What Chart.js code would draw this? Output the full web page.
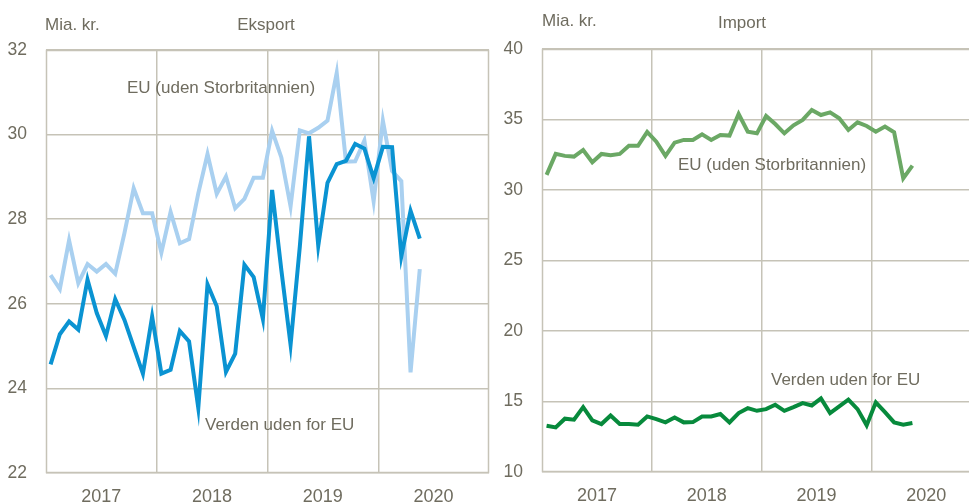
<!DOCTYPE html>
<html>
<head>
<meta charset="utf-8">
<script src="https://cdn.jsdelivr.net/npm/chart.js@4.4.1/dist/chart.umd.min.js"></script>
<style>
  html, body { margin: 0; padding: 0; background: #fff; overflow: hidden; width: 969px; height: 504px; }
  .panel { position: absolute; top: 0; }
  #left { left: 0; width: 490px; height: 504px; }
  #right { left: 490px; width: 500px; height: 504px; }
</style>
</head>
<body>
<div class="panel" id="left"><canvas id="eksportChart" width="490" height="504"></canvas></div>
<div class="panel" id="right"><canvas id="importChart" width="500" height="504"></canvas></div>
<script>
// Months on the x axis, Jan 2017 - Dec 2020
const years = ["2017", "2018", "2019", "2020"];
const months = [];
years.forEach((y) => {
  for (let m = 1; m <= 12; m++) months.push(y + "M" + String(m).padStart(2, "0"));
});

// Eksport, mia. kr. (Jan 2017 - May 2020)
const eksportEU = [
  26.68, 26.35, 27.5, 26.49, 26.94, 26.76, 26.94, 26.71, 27.67, 28.73, 28.14, 28.14,
  27.21, 28.17, 27.43, 27.53, 28.61, 29.54, 28.6, 29.01, 28.26, 28.48, 28.98, 28.98,
  30.09, 29.46, 28.3, 30.1, 30.03, 30.16, 30.33, 31.46, 29.36, 29.37, 29.86, 28.42,
  30.33, 29.14, 28.9, 24.38, 26.82
];
const eksportVerden = [
  24.57, 25.28, 25.58, 25.39, 26.57, 25.78, 25.24, 26.11, 25.62, 24.98, 24.35, 25.7,
  24.35, 24.44, 25.36, 25.11, 23.54, 26.46, 25.94, 24.39, 24.82, 26.92, 26.63, 25.64,
  28.69, 26.8, 25.03, 27.35, 29.96, 27.37, 28.86, 29.3, 29.38, 29.78, 29.67, 28.97,
  29.71, 29.7, 27.12, 28.2, 27.54
];

// Import, mia. kr.
const importEU = [
  31.07, 32.56, 32.42, 32.37, 32.84, 31.97, 32.56, 32.46, 32.56, 33.13, 33.13, 34.12,
  33.43, 32.42, 33.36, 33.55, 33.55, 33.95, 33.55, 33.9, 33.86, 35.39, 34.14, 34.02,
  35.25, 34.68, 34.02, 34.59, 34.97, 35.68, 35.32, 35.51, 35.09, 34.26, 34.8, 34.54,
  34.14, 34.5, 34.09, 30.83, 31.73
];
const importVerden = [
  13.28, 13.16, 13.78, 13.71, 14.6, 13.66, 13.4, 14.01, 13.4, 13.4, 13.35, 13.94,
  13.75, 13.52, 13.87, 13.52, 13.54, 13.94, 13.94, 14.11, 13.52, 14.18, 14.53, 14.34,
  14.46, 14.77, 14.34, 14.6, 14.89, 14.72, 15.22, 14.18, 14.65, 15.13, 14.46, 13.31,
  14.94, 14.25, 13.52, 13.35, 13.47
];

const textColor = "#6f6c5f";
const gridColor = "#c6c3b7";

Chart.defaults.font.family = "'Liberation Sans', Arial, sans-serif";
Chart.defaults.font.size = 17;
Chart.defaults.color = textColor;

// Frame, titles and in-plot labels
const decorPlugin = {
  id: "decor",
  afterDraw(chart, args, opts) {
    const { ctx, chartArea: a } = chart;
    ctx.save();
    ctx.strokeStyle = gridColor;
    ctx.lineWidth = 1.5;
    ctx.strokeRect(a.left + 0.5, a.top + 0.5, a.right - a.left - 1, a.bottom - a.top - 1);
    ctx.fillStyle = textColor;
    ctx.font = "17px 'Liberation Sans', Arial, sans-serif";
    ctx.textBaseline = "middle";
    opts.texts.forEach((t) => {
      ctx.textAlign = t.align || "left";
      ctx.fillText(t.text, t.x, t.y);
    });
    ctx.restore();
  },
};

function makeChart(id, cfg) {
  return new Chart(document.getElementById(id), {
    type: "line",
    data: {
      labels: months,
      datasets: cfg.datasets.map((d, i) => ({
        label: d.label,
        data: d.data,
        borderColor: d.color,
        backgroundColor: d.color,
        borderWidth: 4,
        pointRadius: 0,
        tension: 0,
        fill: false,
        order: i,
      })),
    },
    options: {
      responsive: false,
      animation: false,
      devicePixelRatio: 1,
      layout: { padding: { top: cfg.top, right: cfg.right, left: 0, bottom: 0 } },
      plugins: {
        legend: { display: false },
        tooltip: { enabled: false },
        decor: { texts: cfg.texts },
      },
      scales: {
        x: {
          type: "category",
          offset: true,
          afterFit: (s) => { s.height = cfg.xHeight; },
          border: { display: false },
          grid: {
            offset: true,
            drawTicks: true,
            tickLength: 13,
            tickColor: "rgba(0,0,0,0)",
            lineWidth: 1.5,
            color: (c) => (c.index === 12 || c.index === 24 || c.index === 36 ? gridColor : "rgba(0,0,0,0)"),
          },
          ticks: {
            autoSkip: false,
            maxRotation: 0,
            padding: 0,
            labelOffset: 4.6,
            font: { size: 18 },
            callback: (v, i) => (i % 12 === 5 ? years[Math.floor(i / 12)] : ""),
          },
        },
        y: {
          min: cfg.min,
          max: cfg.max,
          afterFit: (s) => { s.width = cfg.yWidth; },
          border: { display: false },
          grid: { color: gridColor, lineWidth: 1.5, drawTicks: false },
          ticks: { stepSize: cfg.step, padding: 19, font: { size: 17.5 } },
        },
      },
    },
    plugins: [decorPlugin],
  });
}

makeChart("eksportChart", {
  top: 50, right: 1, xHeight: 31, yWidth: 46, min: 22, max: 32, step: 2,
  datasets: [
    { label: "Verden uden for EU", data: eksportVerden, color: "#0a93d2" },
    { label: "EU (uden Storbritannien)", data: eksportEU, color: "#a9d0f0" },
  ],
  texts: [
    { text: "Mia. kr.", x: 45, y: 25 },
    { text: "Eksport", x: 266, y: 25, align: "center" },
    { text: "EU (uden Storbritannien)", x: 127, y: 88 },
    { text: "Verden uden for EU", x: 205, y: 425 },
  ],
});

makeChart("importChart", {
  top: 49, right: 9, xHeight: 32, yWidth: 52, min: 10, max: 40, step: 5,
  datasets: [
    { label: "Verden uden for EU", data: importVerden, color: "#078a3c" },
    { label: "EU (uden Storbritannien)", data: importEU, color: "#6ba865" },
  ],
  texts: [
    { text: "Mia. kr.", x: 52, y: 21 },
    { text: "Import", x: 252, y: 23, align: "center" },
    { text: "EU (uden Storbritannien)", x: 188, y: 165 },
    { text: "Verden uden for EU", x: 281, y: 380 },
  ],
});
</script>
</body>
</html>
